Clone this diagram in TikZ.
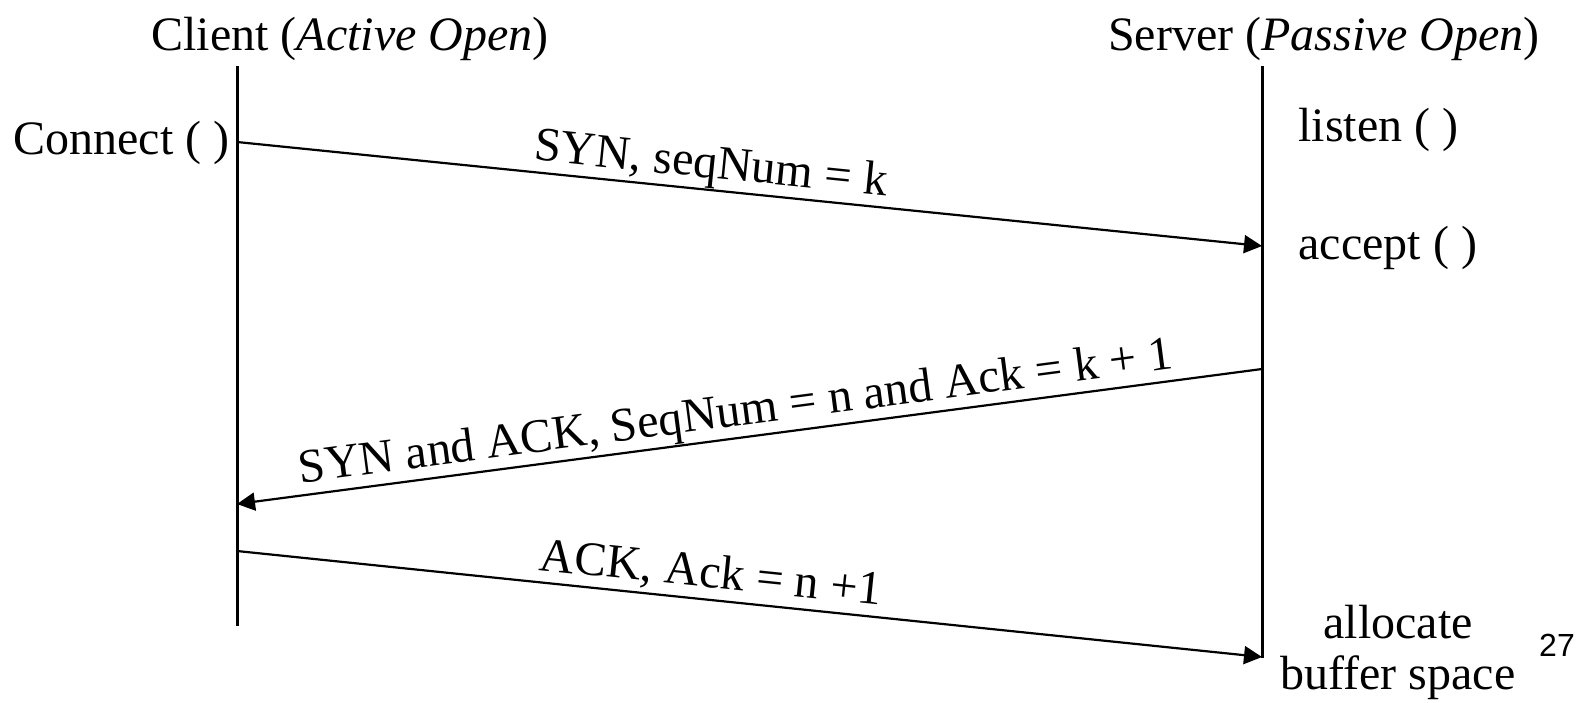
\documentclass[tikz,border=0pt]{standalone}
\usepackage{fontspec}
\setmainfont{Liberation Serif}
\newfontfamily\numfont{Liberation Sans}
\usetikzlibrary{arrows.meta}
\begin{document}
\begin{tikzpicture}[x=0.5pt,y=-0.5pt,
  every node/.style={font=\fontsize{24}{27}\selectfont, inner sep=0pt},
  lifeline/.style={line width=1.5pt},
  msg/.style={line width=1.1pt, -{Triangle[length=9pt,width=9pt]}},
  lbl/.style={sloped, above=3pt, text height=0.75em, text depth=0.25em}]
\useasboundingbox (0,0) rectangle (1582,702);
% headers
\node[anchor=base] (hc) at (350,50) {Client (\textit{Active Open})};
\node[anchor=base] (hs) at (1324,50) {Server (\textit{Passive Open})};
% lifelines
\coordinate (ct) at (237,66);
\coordinate (cb) at (237,626);
\coordinate (st) at (1262,66);
\coordinate (sb) at (1262,658);
\draw[lifeline] (ct) -- (cb);
\draw[lifeline] (st) -- (sb);
% message end points
\coordinate (c1) at (237,142);
\coordinate (s1) at (1262,246);
\coordinate (s2) at (1262,369);
\coordinate (c2) at (237,504);
\coordinate (c3) at (237,551);
\coordinate (s3) at (1262,657);
\draw[msg] (c1) -- node[lbl, pos=0.46] (l1) {SYN, seqNum = k} (s1);
\draw[msg] (s2) -- node[lbl, pos=0.51] (l2) {SYN and ACK, SeqNum = n and Ack = k + 1} (c2);
\draw[msg] (c3) -- node[lbl, pos=0.46] (l3) {ACK, Ack = n +1} (s3);
% side labels
\node[anchor=base east] (conn) at (230,154) {Connect ( )};
\node[anchor=base west] (lis) at (1298,141) {listen ( )};
\node[anchor=base west] (acc) at (1298,259) {accept ( )};
\node[anchor=base] (alloc) at (1398,638) {allocate};
\node[anchor=base] (buf) at (1398,689) {buffer space};
\node[anchor=base, font=\numfont\fontsize{16}{18}\selectfont] (pg) at (1557,656) {27};
\end{tikzpicture}
\end{document}
